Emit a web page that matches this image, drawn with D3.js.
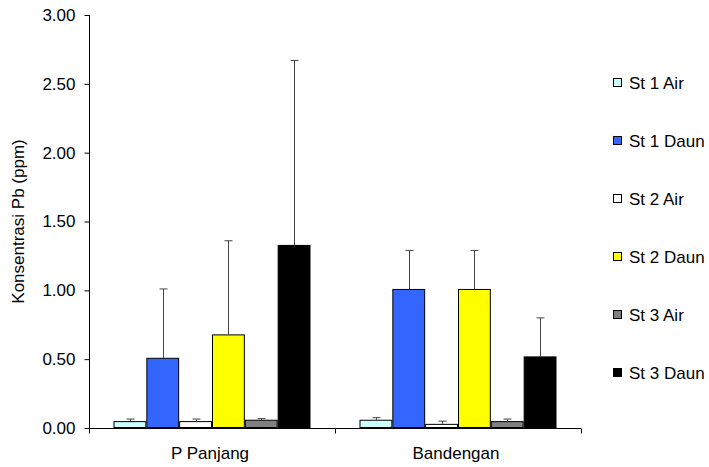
<!DOCTYPE html>
<html>
<head>
<meta charset="utf-8">
<script src="https://cdn.jsdelivr.net/npm/d3@7"></script>
<style>
  body { margin: 0; background: #fff; }
  svg { display: block; font-family: "Liberation Sans", Arial, sans-serif; }
</style>
</head>
<body>
<svg id="chart" width="709" height="467"></svg>
<script>
const categories = ["P Panjang", "Bandengan"];
const seriesNames = ["St 1 Air", "St 1 Daun", "St 2 Air", "St 2 Daun", "St 3 Air", "St 3 Daun"];
const seriesColors = ["#ccffff", "#3366ff", "#ffffff", "#ffff00", "#808080", "#000000"];
// values per series: [P Panjang, Bandengan]
const means = [
  [0.05, 0.06],
  [0.51, 1.01],
  [0.05, 0.03],
  [0.68, 1.01],
  [0.06, 0.05],
  [1.33, 0.52]
];
const errors = [
  [0.015, 0.015],
  [0.50, 0.28],
  [0.015, 0.02],
  [0.68, 0.28],
  [0.008, 0.015],
  [1.34, 0.28]
];
const yTicks = [0, 0.5, 1.0, 1.5, 2.0, 2.5, 3.0];

(function () {
const svg = d3.select("#chart");
const mLeft = 89, mRight = 581, mTop = 15, mBottom = 428;
const fs = 17;

const x0 = d3.scaleBand().domain(categories).range([mLeft, mRight]).padding(0);
const bw = x0.bandwidth();
const x1 = d3.scaleBand().domain(seriesNames).range([24.5, bw - 24.5]).padding(0);
const y = d3.scaleLinear().domain([0, 3]).range([mBottom, mTop]);

// bars
seriesNames.forEach((s, si) => {
  categories.forEach((c, ci) => {
    const v = means[si][ci];
    const e = errors[si][ci];
    const bx = x0(c) + x1(s);
    const cx = Math.round(bx + x1.bandwidth() / 2) + 0.5;
    svg.append("line")
      .attr("x1", cx).attr("x2", cx)
      .attr("y1", y(v)).attr("y2", y(v + e))
      .attr("stroke", "#444").attr("stroke-width", 1);
    svg.append("line")
      .attr("x1", cx - 4).attr("x2", cx + 4)
      .attr("y1", y(v + e)).attr("y2", y(v + e))
      .attr("stroke", "#444").attr("stroke-width", 1);
    svg.append("rect")
      .attr("x", bx + 0.5).attr("y", y(v) + 0.5)
      .attr("width", x1.bandwidth() - 1)
      .attr("height", Math.max(0, y(0) - y(v) - 1))
      .attr("fill", seriesColors[si])
      .attr("stroke", "#000").attr("stroke-width", 1);
  });
});

// y axis
const yAxis = d3.axisLeft(y).tickValues(yTicks).tickFormat(d3.format(".2f")).tickSize(5).tickPadding(9);
const gy = svg.append("g").attr("transform", `translate(${mLeft + 0.5},0)`).call(yAxis);
gy.select(".domain").attr("stroke", "#000").attr("d", `M0,${mTop}V${mBottom + 0.5}`);
gy.selectAll(".tick line").attr("stroke", "#000");
gy.selectAll(".tick text").attr("font-size", fs).attr("fill", "#000")
  .attr("font-family", "Liberation Sans, Arial, sans-serif");

// x axis
const gx = svg.append("g").attr("transform", `translate(0,${mBottom + 0.5})`);
gx.append("line").attr("x1", mLeft).attr("x2", mRight).attr("stroke", "#000");
[mLeft, mLeft + bw, mRight].forEach(t => {
  gx.append("line").attr("x1", Math.round(t) + 0.5).attr("x2", Math.round(t) + 0.5)
    .attr("y1", 0).attr("y2", 5).attr("stroke", "#000");
});
categories.forEach(c => {
  svg.append("text")
    .attr("x", x0(c) + bw / 2 - 2).attr("y", 459)
    .attr("text-anchor", "middle").attr("font-size", fs).attr("fill", "#000")
    .text(c);
});

// y title
svg.append("text")
  .attr("transform", `translate(24,${(mTop + mBottom) / 2}) rotate(-90)`)
  .attr("text-anchor", "middle").attr("font-size", fs).attr("fill", "#000")
  .text("Konsentrasi Pb (ppm)");

// legend
const lg = svg.append("g");
seriesNames.forEach((s, i) => {
  const cy = 83 + i * 58;
  lg.append("rect").attr("x", 613.5).attr("y", cy - 4.5).attr("width", 8).attr("height", 8)
    .attr("fill", seriesColors[i]).attr("stroke", "#000").attr("stroke-width", 1);
  lg.append("text").attr("x", 629).attr("y", cy + 6)
    .attr("font-size", fs).attr("fill", "#000").text(s);
});
})();
</script>
</body>
</html>
